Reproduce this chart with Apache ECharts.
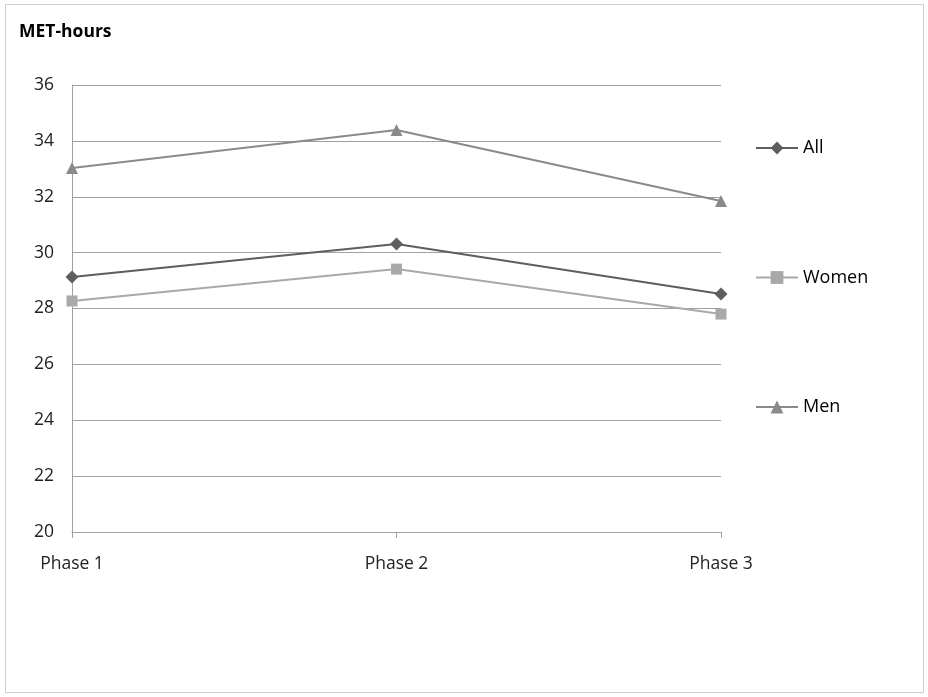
<!DOCTYPE html>
<html><head><meta charset="utf-8">
<script src="https://cdn.jsdelivr.net/npm/echarts@6/dist/echarts.min.js"></script>
<style>
html,body{margin:0;padding:0;background:#fff;}
#frame{position:absolute;left:5px;top:4px;width:919px;height:689px;border:1px solid #d0d0d0;box-sizing:border-box;}
#c{position:absolute;left:0;top:0;width:928px;height:697px;}
</style></head>
<body><div id="frame"></div><div id="c"></div>
<script>
const categories = ['Phase 1', 'Phase 2', 'Phase 3'];
const allValues = [29.13, 30.31, 28.52];
const womenValues = [28.27, 29.41, 27.80];
const menValues = [33.03, 34.39, 31.85];
const yTicks = [20, 22, 24, 26, 28, 30, 32, 34, 36];

const font = '"Open Sans", "Liberation Sans", sans-serif';
const chart = echarts.init(document.getElementById('c'));
chart.setOption({
  animation: false,
  title: { text: 'MET-hours', left: 14, top: 18, textStyle: { fontFamily: font, fontSize: 17.5, fontWeight: 'bold', color: '#000' } },
  grid: { left: 72, right: 207, top: 85, bottom: 165 },
  legend: {
    orient: 'vertical', left: 750, top: 134, itemGap: 111.5, itemWidth: 42, itemHeight: 16,
    textStyle: { fontFamily: font, fontSize: 18, color: '#000' },
    data: ['All', 'Women', 'Men']
  },
  xAxis: {
    type: 'category', data: categories, boundaryGap: false,
    axisLine: { lineStyle: { color: '#a0a0a0', width: 1 } },
    axisTick: { show: true, length: 6, lineStyle: { color: '#a0a0a0' } },
    axisLabel: { fontFamily: font, fontSize: 17.5, color: '#222', margin: 23 }
  },
  yAxis: {
    type: 'value', min: yTicks[0], max: yTicks[yTicks.length - 1], interval: 2,
    axisLine: { show: true, lineStyle: { color: '#a0a0a0' } },
    axisTick: { show: false },
    splitLine: { lineStyle: { color: '#a0a0a0', width: 1 } },
    axisLabel: { fontFamily: font, fontSize: 17.5, color: '#222', margin: 18 }
  },
  series: [
    { name: 'All', type: 'line', data: allValues, symbol: 'diamond', symbolSize: 13,
      lineStyle: { color: '#5e5e5e', width: 2 }, itemStyle: { color: '#5e5e5e' } },
    { name: 'Women', type: 'line', data: womenValues, symbol: 'rect', symbolSize: 11,
      lineStyle: { color: '#a9a9a9', width: 2 }, itemStyle: { color: '#a9a9a9' } },
    { name: 'Men', type: 'line', data: menValues, symbol: 'triangle', symbolSize: 12,
      lineStyle: { color: '#8a8a8a', width: 2 }, itemStyle: { color: '#8a8a8a' } }
  ]
});
</script></body></html>
